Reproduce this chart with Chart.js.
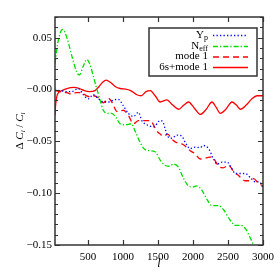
<!DOCTYPE html>
<html>
<head>
<meta charset="utf-8">
<script src="https://cdn.jsdelivr.net/npm/chart.js@4"></script>
<style>
  html, body { margin: 0; padding: 0; background: #fff; }
  #wrap { width: 280px; height: 280px; }
</style>
</head>
<body>
<div id="wrap"><canvas id="clChart" width="280" height="280"></canvas></div>
<script>
// multipole l and relative change of C_l for each run
const ypL = [30, 100, 200, 269, 363, 435, 506, 578, 650, 720, 800, 870, 935, 1000, 1078, 1150, 1221, 1270, 1341, 1436, 1532, 1570, 1603, 1650, 1699, 1770, 1842, 1889, 1961, 2032, 2104, 2151, 2222, 2294, 2342, 2414, 2485, 2557, 2604, 2676, 2747, 2819, 2890, 2950, 3000];
const ypVal = [-0.0005, -0.001, -0.002, -0.002, 0.001, -0.005, -0.009, -0.005, -0.009, -0.012, -0.012, -0.010, -0.0095, -0.015, -0.023, -0.026, -0.022, -0.030, -0.034, -0.036, -0.030, -0.031, -0.038, -0.046, -0.047, -0.044, -0.045, -0.051, -0.057, -0.0555, -0.056, -0.054, -0.057, -0.067, -0.072, -0.070, -0.070, -0.0765, -0.081, -0.081, -0.081, -0.085, -0.089, -0.089, -0.095];

const neffL = [30, 70, 140, 200, 280, 340, 378, 430, 483, 530, 580, 626, 673, 720, 780, 840, 900, 960, 1040, 1117, 1180, 1245, 1300, 1380, 1460, 1532, 1600, 1660, 1722, 1793, 1860, 1936, 2000, 2056, 2127, 2200, 2270, 2365, 2437, 2520, 2604, 2676, 2747, 2810, 2866, 2940];
const neffVal = [0.025, 0.045, 0.058, 0.050, 0.030, 0.017, 0.014, 0.022, 0.029, 0.024, 0.012, 0.001, -0.010, -0.020, -0.023, -0.023, -0.027, -0.033, -0.034, -0.033, -0.041, -0.051, -0.057, -0.059, -0.060, -0.068, -0.073, -0.074, -0.072, -0.075, -0.085, -0.093, -0.094, -0.093, -0.097, -0.106, -0.112, -0.112, -0.116, -0.125, -0.131, -0.131, -0.134, -0.142, -0.150, -0.160];

const mode1L = [30, 100, 200, 269, 330, 400, 480, 530, 578, 650, 720, 793, 850, 913, 1007, 1078, 1150, 1221, 1300, 1388, 1484, 1532, 1580, 1640, 1700, 1793, 1860, 1961, 2030, 2104, 2180, 2270, 2320, 2365, 2430, 2508, 2580, 2651, 2747, 2800, 2866, 2930, 3000];
const mode1Val = [-0.001, -0.002, -0.003, -0.0044, -0.003, -0.003, -0.006, -0.007, -0.006, -0.008, -0.0128, -0.0085, -0.013, -0.021, -0.020, -0.025, -0.033, -0.030, -0.030, -0.030, -0.040, -0.043, -0.045, -0.043, -0.048, -0.052, -0.053, -0.059, -0.062, -0.067, -0.066, -0.065, -0.069, -0.074, -0.0755, -0.073, -0.079, -0.083, -0.088, -0.088, -0.086, -0.090, -0.093];

const sixL = [30, 40, 55, 80, 130, 200, 300, 380, 450, 520, 600, 660, 710, 760, 820, 888, 960, 1040, 1110, 1198, 1260, 1330, 1390, 1460, 1532, 1627, 1710, 1793, 1870, 1936, 2020, 2103, 2190, 2271, 2330, 2390, 2470, 2557, 2620, 2676, 2760, 2840, 2914, 3000];
const sixVal = [-0.025, -0.014, -0.007, -0.003, -0.001, 0.001, 0.002, 0.001, -0.001, -0.002, -0.001, 0.003, 0.007, 0.009, 0.007, 0.003, 0.001, 0.0005, -0.001, -0.005, -0.006, -0.002, -0.001, -0.006, -0.012, -0.010, -0.015, -0.019, -0.015, -0.012, -0.018, -0.024, -0.019, -0.012, -0.017, -0.023, -0.019, -0.012, -0.015, -0.019, -0.015, -0.009, -0.006, -0.006];

const xTicks = [500, 1000, 1500, 2000, 2500, 3000];
const yTicks = [-0.15, -0.10, -0.05, 0, 0.05];

const serif = '"Liberation Serif", "DejaVu Serif", serif';
const frameColor = '#333';

function pts(ls, vs) {
  return ls.map((l, i) => ({ x: l, y: vs[i] }));
}

function fmtY(v) {
  const s = Math.abs(v).toFixed(2);
  return (v > 0 ? '' : '\u2212') + s;
}

// draws inward ticks, frame, axis titles and the boxed legend
const decor = {
  id: 'decor',
  afterDraw(chart) {
    const ctx = chart.ctx;
    const { left, right, top, bottom } = chart.chartArea;
    const xs = chart.scales.x, ys = chart.scales.y;
    ctx.save();
    ctx.strokeStyle = frameColor;
    ctx.lineWidth = 1.2;
    ctx.beginPath();
    xTicks.forEach(v => {
      const p = Math.round(xs.getPixelForValue(v)) + 0.5;
      ctx.moveTo(p, bottom); ctx.lineTo(p, bottom - 5);
      ctx.moveTo(p, top); ctx.lineTo(p, top + 5);
    });
    for (let i = -15; i <= 7; i++) {
      const major = i % 5 === 0;
      const len = major ? 5 : 3;
      const p = Math.round(ys.getPixelForValue(i / 100)) + 0.5;
      ctx.moveTo(left, p); ctx.lineTo(left + len, p);
      ctx.moveTo(right, p); ctx.lineTo(right - len, p);
    }
    ctx.stroke();
    ctx.lineWidth = 1.5;
    ctx.strokeRect(left, top, right - left, bottom - top);

    // x title
    ctx.fillStyle = '#000';
    ctx.font = 'italic 12px ' + serif;
    ctx.textAlign = 'center';
    ctx.textBaseline = 'middle';
    ctx.fillText('l', (left + right) / 2, 264);

    // y title, rotated
    ctx.save();
    ctx.translate(20, (top + bottom) / 2);
    ctx.rotate(-Math.PI / 2);
    ctx.textAlign = 'left';
    ctx.textBaseline = 'middle';
    const parts = [
      ['\u0394 ', '11px ' + serif, 0],
      ['C', 'italic 11px ' + serif, 0],
      ['l', 'italic 7px ' + serif, 3],
      [' / ', '11px ' + serif, 0],
      ['C', 'italic 11px ' + serif, 0],
      ['l', 'italic 7px ' + serif, 3]
    ];
    let w = 0;
    parts.forEach(p => { ctx.font = p[1]; w += ctx.measureText(p[0]).width; });
    let cx = -w / 2;
    parts.forEach(p => {
      ctx.font = p[1];
      ctx.fillText(p[0], cx, p[2]);
      cx += ctx.measureText(p[0]).width;
    });
    ctx.restore();

    // legend box
    ctx.fillStyle = '#fff';
    ctx.fillRect(149, 28, 108, 48);
    ctx.lineWidth = 1.5;
    ctx.strokeStyle = frameColor;
    ctx.strokeRect(149, 28, 108, 48);
    const rowY = [35, 46, 56.5, 67];
    chart.data.datasets.forEach((ds, i) => {
      const y = rowY[i];
      ctx.fillStyle = '#000';
      ctx.textBaseline = 'middle';
      ctx.textAlign = 'right';
      let tx = 208;
      if (ds.sub) {
        ctx.font = '8px ' + serif;
        ctx.fillText(ds.sub, tx, y + 3);
        tx -= ctx.measureText(ds.sub).width;
      }
      ctx.font = '11px ' + serif;
      ctx.fillText(ds.main, tx, y);
      ctx.strokeStyle = ds.borderColor;
      ctx.lineWidth = ds.borderWidth;
      ctx.setLineDash(ds.borderDash || []);
      ctx.beginPath();
      ctx.moveTo(213, y + 0.5);
      ctx.lineTo(248, y + 0.5);
      ctx.stroke();
      ctx.setLineDash([]);
    });
    ctx.restore();
  }
};

new Chart(document.getElementById('clChart'), {
  type: 'line',
  data: {
    datasets: [
      { label: 'Yp', main: 'Y', sub: 'p', data: pts(ypL, ypVal), borderColor: '#0000ff', borderWidth: 1.3, borderDash: [1.3, 2.2] },
      { label: 'Neff', main: 'N', sub: 'eff', data: pts(neffL, neffVal), borderColor: '#00dd00', borderWidth: 1.3, borderDash: [5, 2, 1.3, 2] },
      { label: 'mode 1', main: 'mode 1', data: pts(mode1L, mode1Val), borderColor: '#ff0000', borderWidth: 1.3, borderDash: [6, 4] },
      { label: '6s+mode 1', main: '6s+mode 1', data: pts(sixL, sixVal), borderColor: '#ff0000', borderWidth: 1.3 }
    ]
  },
  options: {
    responsive: false,
    animation: false,
    events: [],
    layout: { padding: { left: 0, right: 17, top: 17, bottom: 0 } },
    elements: {
      point: { radius: 0 },
      line: { cubicInterpolationMode: 'monotone', fill: false }
    },
    plugins: {
      legend: { display: false },
      tooltip: { enabled: false }
    },
    scales: {
      x: {
        type: 'linear',
        min: 30,
        max: 3000,
        grid: { display: false, drawTicks: false },
        border: { display: false },
        afterBuildTicks: s => { s.ticks = xTicks.map(v => ({ value: v })); },
        afterFit: s => { s.height = 35; },
        ticks: {
          padding: 6,
          color: '#000',
          font: { family: serif, size: 11 },
          callback: v => String(v)
        }
      },
      y: {
        min: -0.15,
        max: 0.07,
        grid: { display: false, drawTicks: false },
        border: { display: false },
        afterBuildTicks: s => { s.ticks = yTicks.map(v => ({ value: v })); },
        afterFit: s => { s.width = 55; },
        ticks: {
          padding: 3,
          color: '#000',
          font: { family: serif, size: 11 },
          callback: v => fmtY(v)
        }
      }
    }
  },
  plugins: [decor]
});
</script>
</body>
</html>
